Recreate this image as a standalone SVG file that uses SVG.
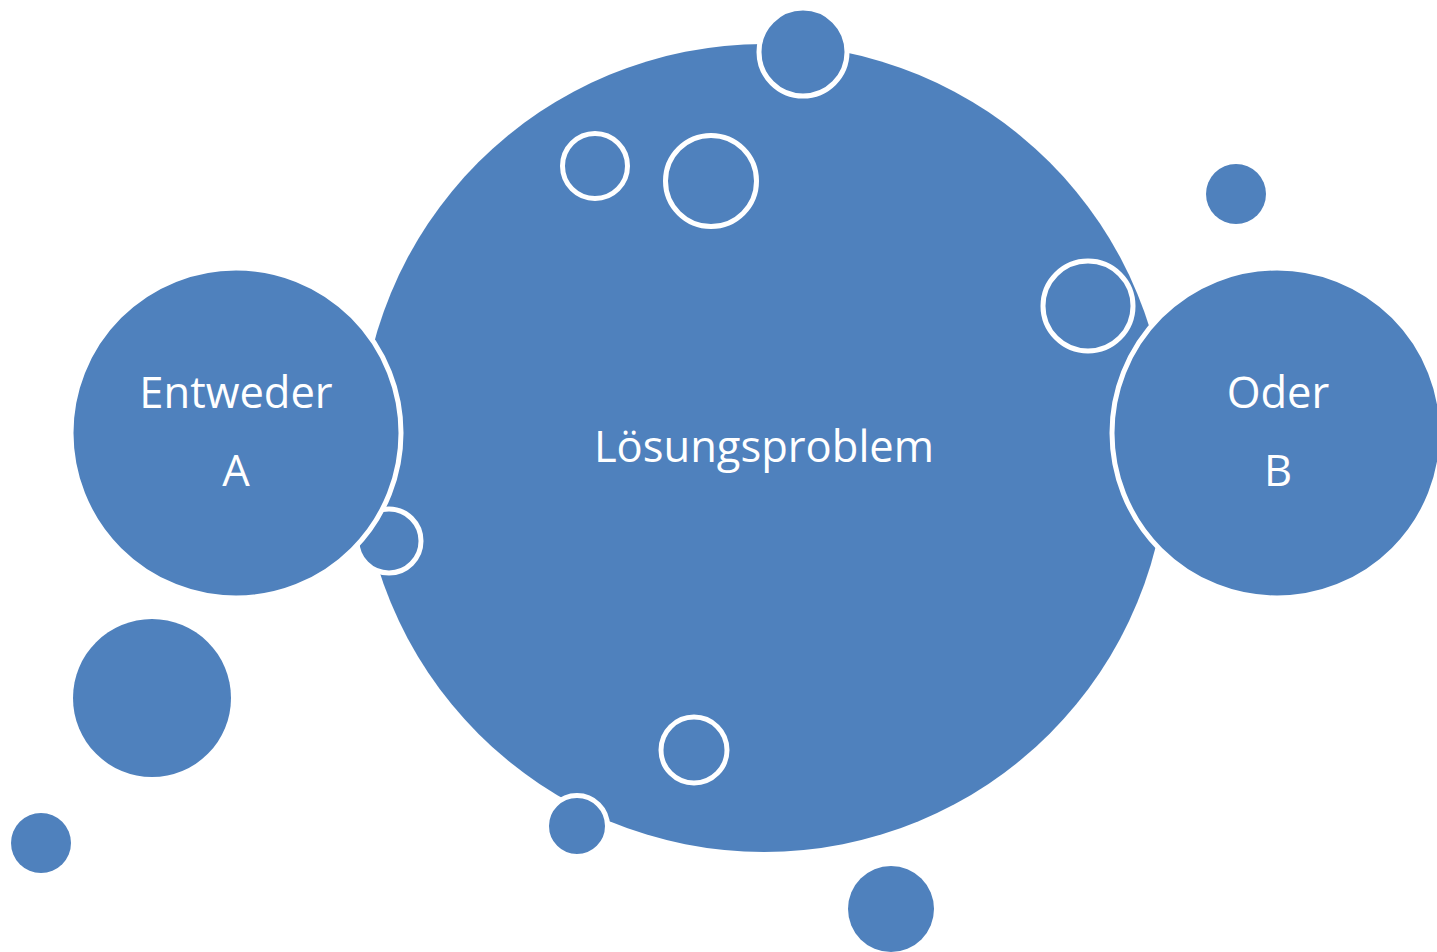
<svg xmlns="http://www.w3.org/2000/svg" width="1437" height="952" viewBox="0 0 1437 952">
<style>
.f{fill:#4F81BD}
.s{fill:#4F81BD;stroke:#FFFFFF;stroke-width:5}
.t{fill:#FFFFFF;font-family:"Open Sans","Noto Sans",sans-serif;font-size:43.5px;text-anchor:middle}
</style>
<rect width="1437" height="952" fill="#FFFFFF"/>
<g id="main">
<circle class="f" cx="764" cy="448" r="404"/>
<text class="t" x="764" y="462">Lösungsproblem</text>
</g>
<g id="bubble-top"><circle class="s" cx="803" cy="52" r="44"/></g>
<g id="bubble-1"><circle class="s" cx="595" cy="166" r="32.5"/></g>
<g id="bubble-2"><circle class="s" cx="711" cy="181" r="45.5"/></g>
<g id="bubble-3"><circle class="s" cx="1088" cy="306" r="45"/></g>
<g id="bubble-4"><circle class="s" cx="694" cy="750" r="33"/></g>
<g id="bubble-5"><circle class="s" cx="577" cy="826" r="30.5"/></g>
<g id="bubble-6"><circle class="s" cx="389" cy="541" r="32"/></g>
<g id="entweder">
<circle class="s" cx="236" cy="433" r="165"/>
<text class="t" x="236" y="408">Entweder</text>
<text class="t" x="236" y="486">A</text>
</g>
<g id="oder">
<circle class="s" cx="1277" cy="433" r="165"/>
<text class="t" x="1278" y="408">Oder</text>
<text class="t" x="1278" y="486">B</text>
</g>
<g id="dot-1"><circle class="f" cx="1236" cy="194" r="30"/></g>
<g id="dot-2"><circle class="f" cx="152" cy="698" r="79"/></g>
<g id="dot-3"><circle class="f" cx="41" cy="843" r="30"/></g>
<g id="dot-4"><circle class="f" cx="891" cy="909" r="43"/></g>
<g id="connectors"></g>
</svg>
